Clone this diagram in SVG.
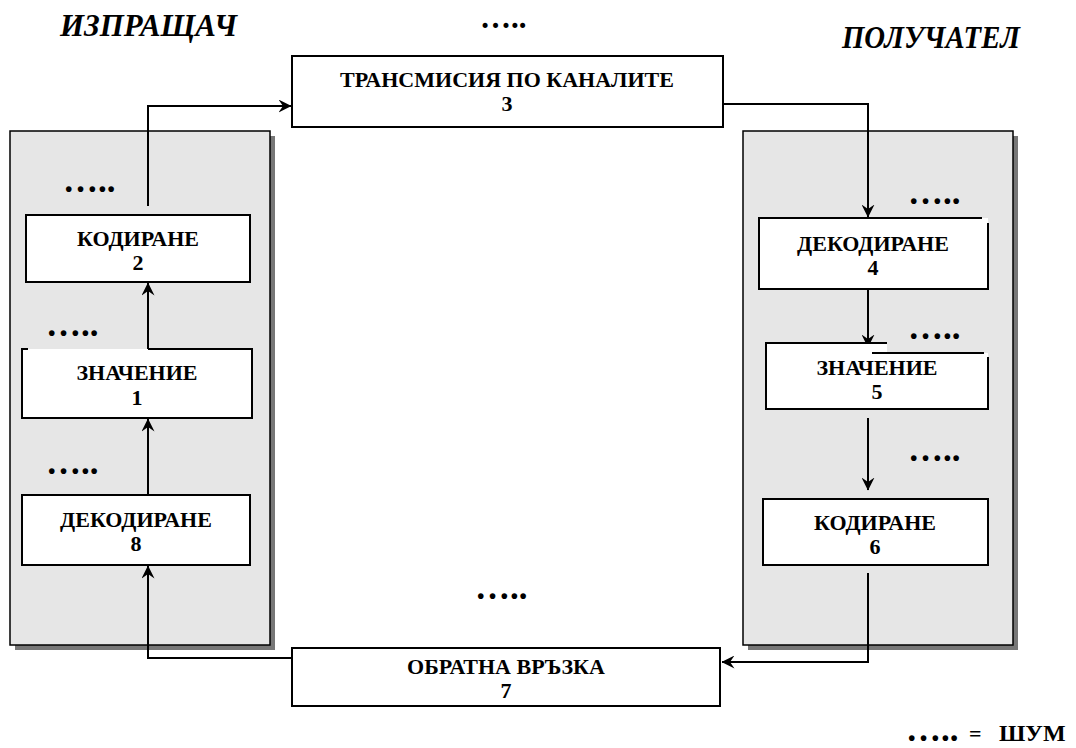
<svg xmlns="http://www.w3.org/2000/svg" width="1076" height="748" viewBox="0 0 1076 748">
  <style>
    .panel { fill: #e6e6e6; stroke: #000; stroke-width: 1.5; }
    .shadow { fill: #777; }
    .box { fill: #fff; stroke: #000; stroke-width: 2; }
    .edge { fill: none; stroke: #000; stroke-width: 2; }
    .lbl { font-family: "Liberation Serif", "Times New Roman", serif; font-weight: bold; font-size: 22px; fill: #000; text-anchor: middle; }
    .title { font-family: "Liberation Serif", "Times New Roman", serif; font-weight: bold; font-style: italic; font-size: 31px; fill: #000; }
    .noise { font-family: "Liberation Serif", "Times New Roman", serif; font-weight: bold; font-size: 35px; fill: #000; }
    .wire { fill: none; stroke: #000; stroke-width: 2; }
  </style>
  <defs>
    <marker id="arrow" viewBox="0 0 13 13" refX="12.5" refY="6.5" markerWidth="13" markerHeight="13" markerUnits="userSpaceOnUse" orient="auto">
      <path d="M0,0 L13,6.5 L0,13 L4.5,6.5 z" fill="#000"/>
    </marker>
  </defs>

  <rect width="1076" height="748" fill="#fff"/>

  <!-- side titles -->
  <text class="title" x="60" y="36" textLength="177" lengthAdjust="spacingAndGlyphs">ИЗПРАЩАЧ</text>
  <text class="title" x="842" y="48" textLength="178" lengthAdjust="spacingAndGlyphs">ПОЛУЧАТЕЛ</text>

  <!-- sender panel -->
  <g id="sender-panel">
    <rect class="shadow" x="15" y="136" width="260" height="514"/>
    <rect class="panel" x="10" y="131" width="260" height="514"/>
  </g>
  <!-- receiver panel -->
  <g id="receiver-panel">
    <rect class="shadow" x="748" y="136" width="270" height="514"/>
    <rect class="panel" x="743" y="131" width="270" height="514"/>
  </g>

  <!-- connectors -->
  <g id="connectors">
    <path class="wire" d="M292,658 H148 V566" marker-end="url(#arrow)"/>
    <path class="wire" d="M148,495 V419" marker-end="url(#arrow)"/>
    <path class="wire" d="M148,349 V283" marker-end="url(#arrow)"/>
    <path class="wire" d="M148,206 V106 H291" marker-end="url(#arrow)"/>
    <path class="wire" d="M723,104 H868 V217" marker-end="url(#arrow)"/>
    <path class="wire" d="M868,289 V347" marker-end="url(#arrow)"/>
    <path class="wire" d="M868,418 V490" marker-end="url(#arrow)"/>
    <path class="wire" d="M868,573 V662 H722" marker-end="url(#arrow)"/>
  </g>

  <!-- 3: channel transmission -->
  <g id="node-3">
    <rect class="box" x="292" y="56" width="431" height="71"/>
    <text class="lbl" x="507" y="87">ТРАНСМИСИЯ ПО КАНАЛИТЕ</text>
    <text class="lbl" x="507" y="111">3</text>
  </g>

  <!-- 2: encoding (sender) -->
  <g id="node-2">
    <rect class="box" x="26" y="215" width="224" height="67"/>
    <text class="lbl" x="138" y="246">КОДИРАНЕ</text>
    <text class="lbl" x="138" y="270">2</text>
  </g>

  <!-- 1: meaning (sender) -->
  <g id="node-1">
    <rect x="22" y="349" width="230" height="69" fill="#fff"/>
    <path class="edge" d="M28,349 H22 V418 H252 V349 H148"/>
    <text class="lbl" x="137" y="380">ЗНАЧЕНИЕ</text>
    <text class="lbl" x="137" y="405">1</text>
  </g>

  <!-- 8: decoding (sender) -->
  <g id="node-8">
    <rect class="box" x="22" y="495" width="228" height="70"/>
    <text class="lbl" x="136" y="527">ДЕКОДИРАНЕ</text>
    <text class="lbl" x="136" y="551">8</text>
  </g>

  <!-- 4: decoding (receiver) -->
  <g id="node-4">
    <rect x="759" y="218" width="229" height="71" fill="#fff"/>
    <path class="edge" d="M982,218 H759 V289 H988 V223"/>
    <text class="lbl" x="873" y="251">ДЕКОДИРАНЕ</text>
    <text class="lbl" x="873" y="275">4</text>
  </g>

  <!-- 5: meaning (receiver) -->
  <g id="node-5">
    <path d="M766,343 H887 V353 H988 V409 H766 Z" fill="#fff"/>
    <path class="edge" d="M887,343 H766 V409 H988 V357"/>
    <path class="edge" d="M872,353 H984"/>
    <text class="lbl" x="877" y="375">ЗНАЧЕНИЕ</text>
    <text class="lbl" x="877" y="399">5</text>
  </g>

  <!-- 6: encoding (receiver) -->
  <g id="node-6">
    <rect class="box" x="763" y="499" width="225" height="66"/>
    <text class="lbl" x="875" y="530">КОДИРАНЕ</text>
    <text class="lbl" x="875" y="554">6</text>
  </g>

  <!-- 7: feedback -->
  <g id="node-7">
    <rect class="box" x="292" y="648" width="428" height="58"/>
    <text class="lbl" x="506" y="674">ОБРАТНА ВРЪЗКА</text>
    <text class="lbl" x="506" y="698">7</text>
  </g>

  <!-- noise markers -->
  <g id="noise">
    <text class="noise" x="480" y="28" style="font-size:31px">…..</text>
    <text class="noise" x="63" y="192">…..</text>
    <text class="noise" x="46" y="336">…..</text>
    <text class="noise" x="46" y="474">…..</text>
    <text class="noise" x="908" y="204">…..</text>
    <text class="noise" x="908" y="339">…..</text>
    <text class="noise" x="908" y="461">…..</text>
    <text class="noise" x="475" y="599">…..</text>
  </g>

  <!-- legend -->
  <g id="legend">
    <text class="noise" x="906" y="741">…..</text>
    <text class="lbl" x="969" y="741" style="text-anchor:start">=</text>
    <text class="lbl" x="999" y="741" style="text-anchor:start;font-size:24px">ШУМ</text>
  </g>
</svg>
